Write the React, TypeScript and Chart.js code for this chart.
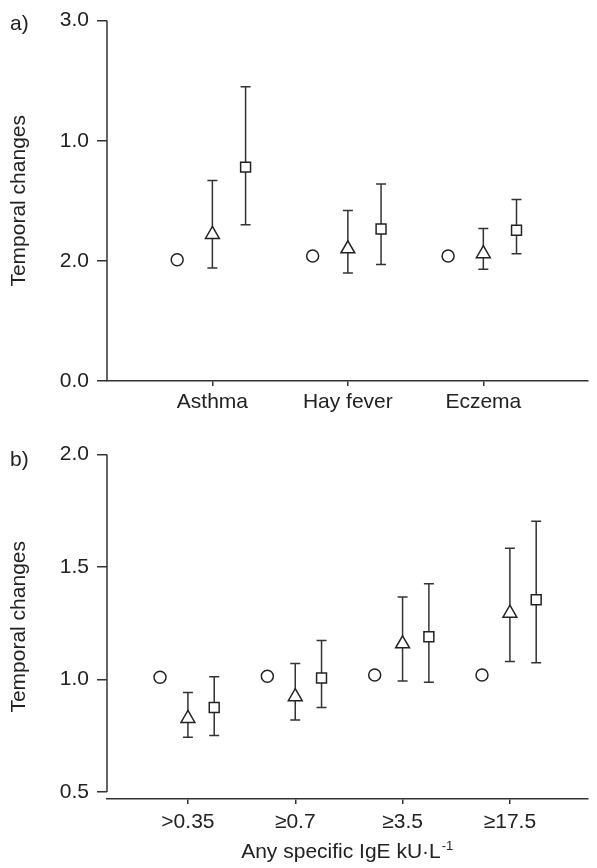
import { useEffect, useRef } from "react";
import { Chart, registerables } from "chart.js";

Chart.register(...registerables);

const FONT_FAMILY = "'Liberation Sans', Arial, Helvetica, sans-serif";
const FONT_SIZE = 21;
const INK = "#222";
const AXIS = "#333";

// ---------- Panel a ----------
const categoriesA = ["Asthma", "Hay fever", "Eczema"];
const circleA = [1.01, 1.04, 1.04];
const triangleA = [1.22, 1.1, 1.06];
const triangleLowA = [0.94, 0.9, 0.93];
const triangleHighA = [1.67, 1.42, 1.27];
const squareA = [1.78, 1.265, 1.255];
const squareLowA = [1.3, 0.97, 1.06];
const squareHighA = [2.45, 1.64, 1.51];
const yTickValuesA = [0, 1, 2, 3];
const yTickLabelsA = ["0.0", "2.0", "1.0", "3.0"];

// ---------- Panel b ----------
const categoriesB = [">0.35", "≥0.7", "≥3.5", "≥17.5"];
const circleB = [1.01, 1.015, 1.02, 1.02];
const triangleB = [0.827, 0.924, 1.159, 1.295];
const triangleLowB = [0.743, 0.82, 0.994, 1.08];
const triangleHighB = [0.942, 1.071, 1.367, 1.584];
const squareB = [0.876, 1.007, 1.19, 1.355];
const squareLowB = [0.751, 0.876, 0.988, 1.075];
const squareHighB = [1.012, 1.174, 1.426, 1.704];
const yTickValuesB = [0.5, 1.0, 1.5, 2.0];
const yTickLabelsB = ["0.5", "1.0", "1.5", "2.0"];

const yTitle = "Temporal changes";
const xTitleB = "Any specific IgE kU·L";
const xTitleSupB = "-1";

const CANVAS_W = 597;
const CANVAS_H = 434;

const errorBarPlugin = {
  id: "errorBars",
  beforeDatasetsDraw(chart: any) {
    const { ctx } = chart;
    const xs = chart.scales.x;
    const ys = chart.scales.y;
    chart.data.datasets.forEach((ds: any) => {
      if (!ds.errLow) return;
      ctx.save();
      ctx.strokeStyle = AXIS;
      ctx.lineWidth = 1.5;
      ds.data.forEach((pt: any, i: number) => {
        const x = xs.getPixelForValue(pt.x);
        const y1 = ys.getPixelForValue(ds.errLow[i]);
        const y2 = ys.getPixelForValue(ds.errHigh[i]);
        const cap = 5;
        ctx.beginPath();
        ctx.moveTo(x, y1);
        ctx.lineTo(x, y2);
        ctx.moveTo(x - cap, y1);
        ctx.lineTo(x + cap, y1);
        ctx.moveTo(x - cap, y2);
        ctx.lineTo(x + cap, y2);
        ctx.stroke();
      });
      ctx.restore();
    });
  },
};

const decorPlugin = {
  id: "decor",
  beforeDatasetsDraw(chart: any, _args: any, opts: any) {
    const { ctx, chartArea } = chart;
    const ys = chart.scales.y;
    const vals: number[] = opts.yTicks;
    const top = ys.getPixelForValue(Math.max(...vals));
    const bot = ys.getPixelForValue(Math.min(...vals));
    ctx.save();
    ctx.strokeStyle = AXIS;
    ctx.lineWidth = 1.5;
    ctx.beginPath();
    ctx.moveTo(chartArea.left, top);
    ctx.lineTo(chartArea.left, bot);
    ctx.stroke();
    ctx.restore();
  },
  afterDraw(chart: any, _args: any, opts: any) {
    const { ctx, chartArea } = chart;
    ctx.save();
    ctx.fillStyle = INK;
    ctx.font = `${FONT_SIZE}px ${FONT_FAMILY}`;
    ctx.textBaseline = "alphabetic";
    ctx.textAlign = "left";
    ctx.fillText(opts.panel, 10, opts.panelY);
    if (opts.xTitle) {
      const mainFont = `${FONT_SIZE}px ${FONT_FAMILY}`;
      const supFont = `13px ${FONT_FAMILY}`;
      ctx.font = mainFont;
      const w1 = ctx.measureText(opts.xTitle).width;
      ctx.font = supFont;
      const w2 = ctx.measureText(opts.xSup).width;
      const cx = (chartArea.left + chartArea.right) / 2;
      const x0 = cx - (w1 + w2 + 1) / 2;
      ctx.font = mainFont;
      ctx.fillText(opts.xTitle, x0, opts.xTitleY);
      ctx.font = supFont;
      ctx.fillText(opts.xSup, x0 + w1 + 1, opts.xTitleY - 8);
    }
    ctx.restore();
  },
};

type PanelCfg = {
  categories: string[];
  circle: number[];
  triangle: number[];
  triLow: number[];
  triHigh: number[];
  square: number[];
  sqLow: number[];
  sqHigh: number[];
  yTicks: number[];
  yLabels: string[];
  yMin: number;
  yMax: number;
  xMin: number;
  xMax: number;
  xHeight: number;
  xPad: number;
  panel: string;
  panelY: number;
  xTitle?: string;
  xSup?: string;
  xTitleY?: number;
};

const OFFSET_CIRCLE = -0.26;
const OFFSET_SQUARE = 0.245;

function buildConfig(p: PanelCfg): any {
  const pts = (vals: number[], off: number) =>
    vals.map((v, i) => ({ x: i + 1 + off, y: v }));
  const base = {
    backgroundColor: "#fff",
    borderColor: INK,
    borderWidth: 1.5,
    showLine: false,
  };
  return {
    type: "scatter",
    data: {
      datasets: [
        { ...base, data: pts(p.circle, OFFSET_CIRCLE), pointStyle: "circle", pointRadius: 6 },
        {
          ...base,
          data: pts(p.triangle, 0),
          pointStyle: "triangle",
          pointRadius: 8,
          errLow: p.triLow,
          errHigh: p.triHigh,
        },
        {
          ...base,
          data: pts(p.square, OFFSET_SQUARE),
          pointStyle: "rect",
          pointRadius: 7,
          errLow: p.sqLow,
          errHigh: p.sqHigh,
        },
      ],
    },
    options: {
      responsive: false,
      animation: false,
      layout: { padding: { top: 19, left: 0, right: 1, bottom: 0 } },
      plugins: {
        legend: { display: false },
        tooltip: { enabled: false },
        decor: {
          yTicks: p.yTicks,
          panel: p.panel,
          panelY: p.panelY,
          xTitle: p.xTitle,
          xSup: p.xSup,
          xTitleY: p.xTitleY,
        },
      },
      scales: {
        x: {
          type: "linear",
          min: p.xMin,
          max: p.xMax,
          afterBuildTicks: (s: any) => {
            s.ticks = p.categories.map((_, i) => ({ value: i + 1 }));
          },
          afterFit: (s: any) => {
            s.height = p.xHeight;
          },
          ticks: {
            callback: (_v: any, i: number) => p.categories[i],
            font: { family: FONT_FAMILY, size: FONT_SIZE },
            color: INK,
            padding: p.xPad,
            autoSkip: false,
            maxRotation: 0,
          },
          grid: {
            drawOnChartArea: false,
            drawTicks: true,
            tickLength: 5,
            color: AXIS,
            lineWidth: 1.5,
          },
          border: { display: true, color: AXIS, width: 1.5 },
        },
        y: {
          type: "linear",
          min: p.yMin,
          max: p.yMax,
          afterBuildTicks: (s: any) => {
            s.ticks = p.yTicks.map((v) => ({ value: v }));
          },
          afterFit: (s: any) => {
            s.width = 107;
          },
          ticks: {
            callback: (_v: any, i: number) => p.yLabels[i],
            font: { family: FONT_FAMILY, size: FONT_SIZE },
            color: INK,
            padding: 8,
            autoSkip: false,
          },
          grid: {
            drawOnChartArea: false,
            drawTicks: true,
            tickLength: 10,
            color: AXIS,
            lineWidth: 1.5,
          },
          border: { display: false },
          title: {
            display: true,
            text: yTitle,
            font: { family: FONT_FAMILY, size: FONT_SIZE },
            color: INK,
            padding: { top: 7, bottom: 0 },
          },
        },
      },
    },
    plugins: [errorBarPlugin, decorPlugin],
  };
}

const panelA: PanelCfg = {
  categories: categoriesA,
  circle: circleA,
  triangle: triangleA,
  triLow: triangleLowA,
  triHigh: triangleHighA,
  square: squareA,
  sqLow: squareLowA,
  sqHigh: squareHighA,
  yTicks: yTickValuesA,
  yLabels: yTickLabelsA,
  yMin: 0,
  yMax: 3,
  xMin: 0.222,
  xMax: 3.769,
  xHeight: 53,
  xPad: 4,
  panel: "a)",
  panelY: 29.5,
};

const panelB: PanelCfg = {
  categories: categoriesB,
  circle: circleB,
  triangle: triangleB,
  triLow: triangleLowB,
  triHigh: triangleHighB,
  square: squareB,
  sqLow: squareLowB,
  sqHigh: squareHighB,
  yTicks: yTickValuesB,
  yLabels: yTickLabelsB,
  yMin: 0.469,
  yMax: 2.0,
  xMin: 0.246,
  xMax: 4.723,
  xHeight: 69,
  xPad: 6,
  panel: "b)",
  panelY: 32,
  xTitle: xTitleB,
  xSup: xTitleSupB,
  xTitleY: 424,
};

function Panel({ cfg, top }: { cfg: PanelCfg; top: number }) {
  const ref = useRef<HTMLCanvasElement | null>(null);
  useEffect(() => {
    if (!ref.current) return;
    const chart = new Chart(ref.current, buildConfig(cfg));
    return () => chart.destroy();
  }, [cfg]);
  return (
    <canvas
      ref={ref}
      width={CANVAS_W}
      height={CANVAS_H}
      style={{ position: "absolute", left: 0, top, width: CANVAS_W, height: CANVAS_H }}
    />
  );
}

export default function App() {
  return (
    <div
      style={{
        position: "absolute",
        left: 0,
        top: 0,
        width: CANVAS_W,
        height: CANVAS_H * 2,
        background: "#fff",
      }}
    >
      <Panel cfg={panelA} top={0} />
      <Panel cfg={panelB} top={CANVAS_H} />
    </div>
  );
}
